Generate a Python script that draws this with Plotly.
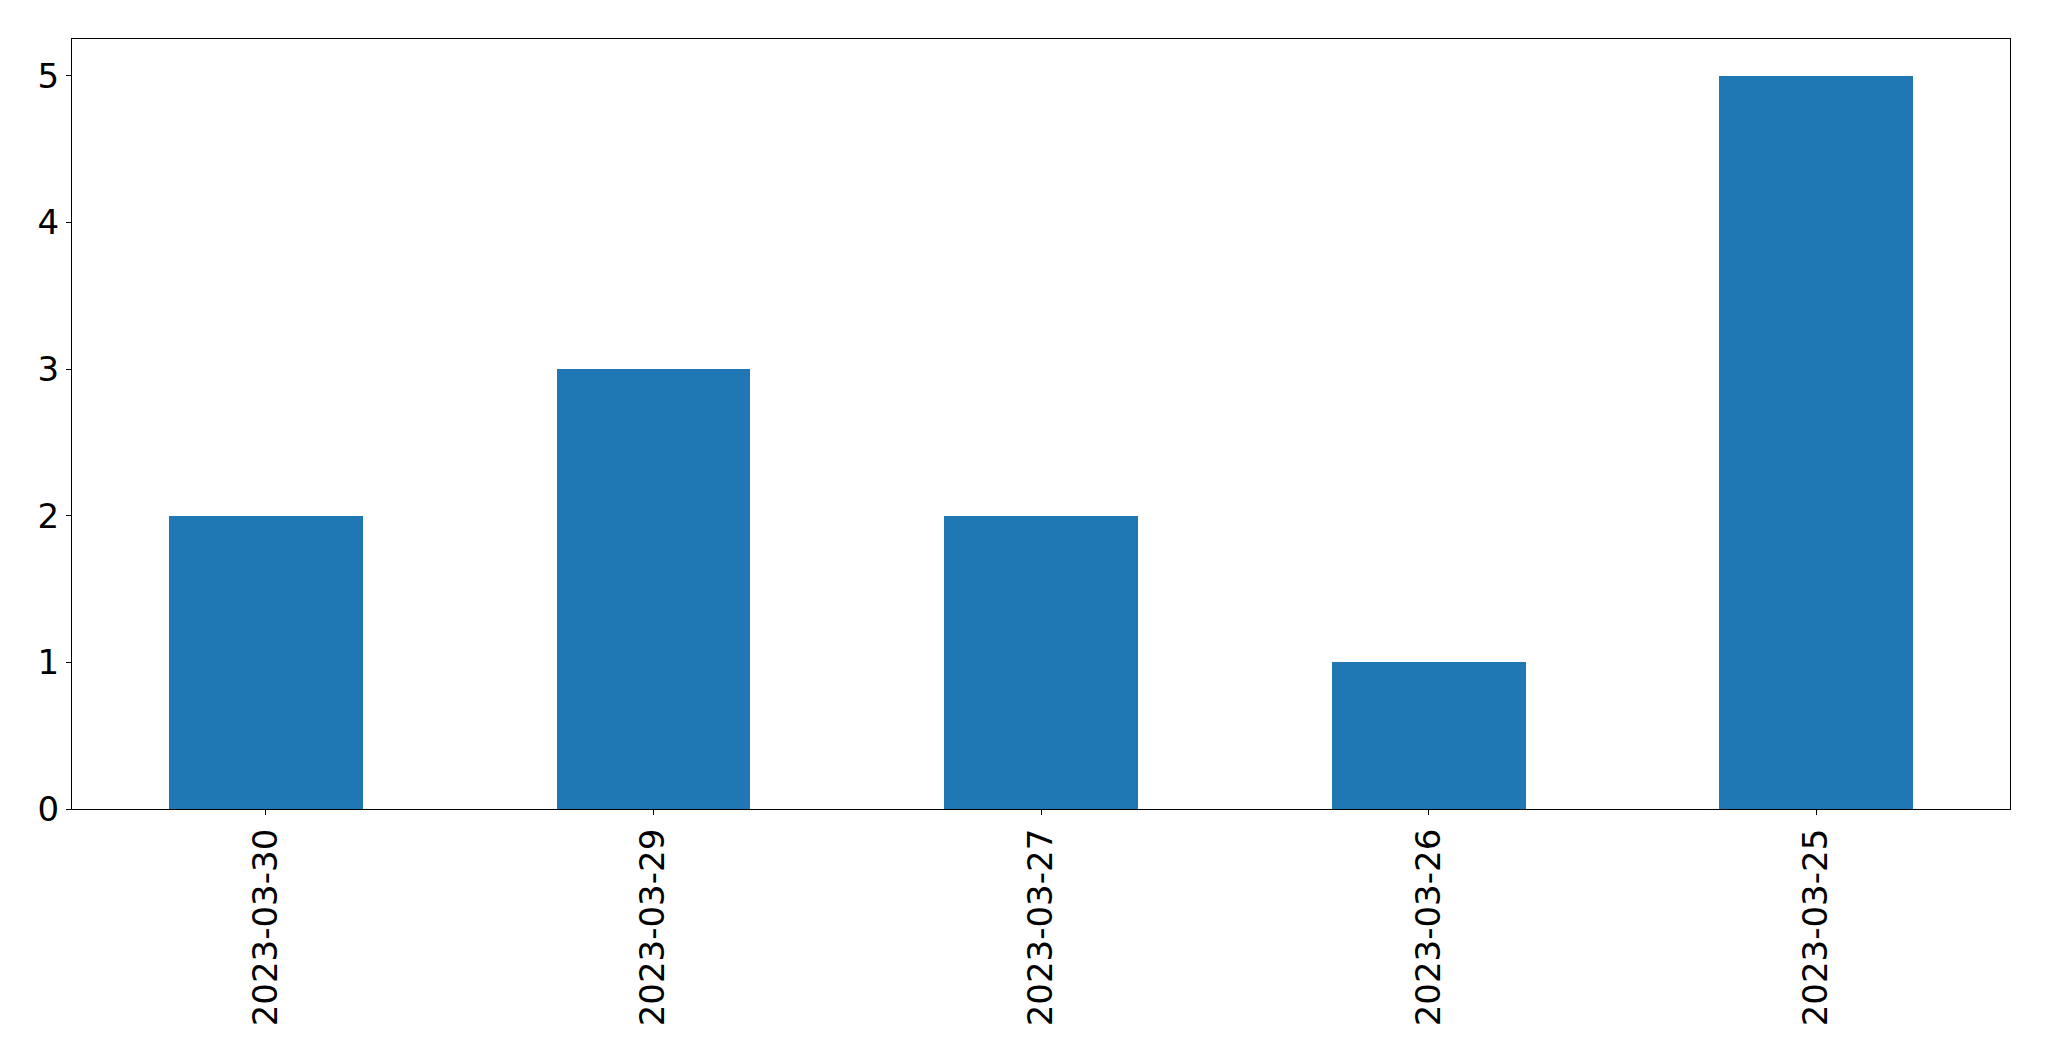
import plotly.graph_objects as go

categories = ["2023-03-30", "2023-03-29", "2023-03-27", "2023-03-26", "2023-03-25"]
values = [2, 3, 2, 1, 5]
y_ticks = [0, 1, 2, 3, 4, 5]

fig = go.Figure()
fig.add_trace(go.Bar(
    x=list(range(len(categories))),
    y=values,
    width=0.5,
    marker=dict(color="#1f77b4", line=dict(width=0)),
))

fig.update_layout(
    width=2049, height=1061,
    margin=dict(l=72, r=39, t=39, b=252, pad=0),
    paper_bgcolor="white", plot_bgcolor="white",
    showlegend=False,
    font=dict(family="DejaVu Sans", size=34, color="black"),
    bargap=0,
)
fig.update_xaxes(
    range=[-0.5, len(categories) - 0.5],
    tickmode="array",
    tickvals=list(range(len(categories))),
    ticktext=categories,
    tickangle=-90,
    showline=True, linecolor="black", linewidth=1.3, mirror=True,
    ticks="outside", ticklen=5, tickwidth=1.3, tickcolor="black",
    showgrid=False, zeroline=False,
)
fig.update_yaxes(
    range=[0, 5.25],
    tickmode="array",
    tickvals=y_ticks,
    ticktext=[str(v) for v in y_ticks],
    showline=True, linecolor="black", linewidth=1.3, mirror=True,
    ticks="outside", ticklen=5, tickwidth=1.3, tickcolor="black",
    showgrid=False, zeroline=False,
)

fig.write_html(
    "out.html",
    config={"displayModeBar": False},
    post_script="document.body.style.margin='0';document.body.style.overflow='hidden';",
)
